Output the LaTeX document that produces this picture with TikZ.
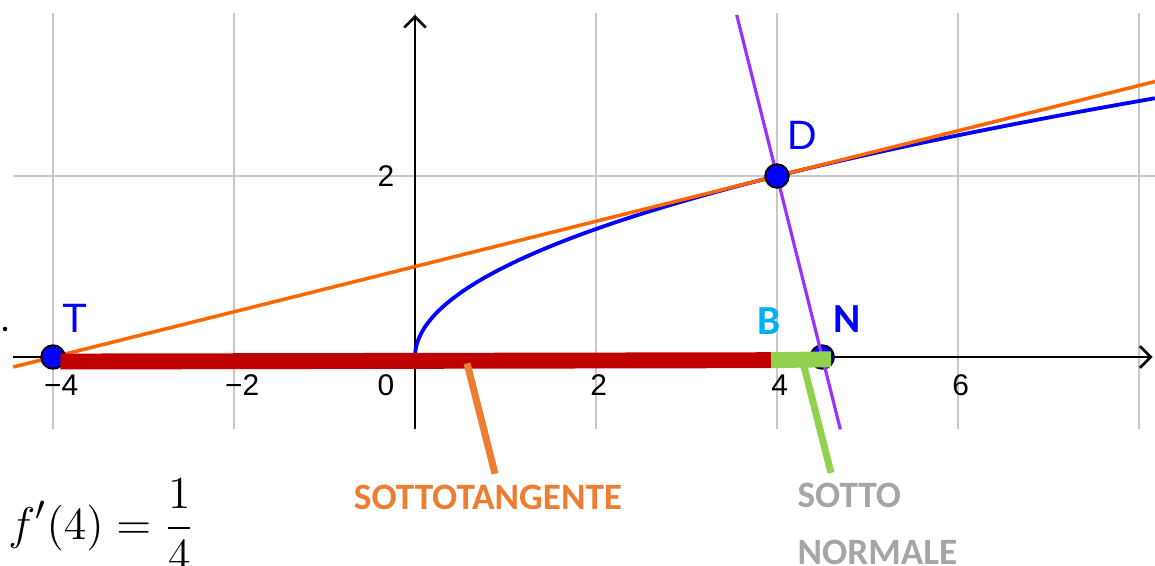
\documentclass[tikz,border=0pt]{standalone}
\usepackage{amsmath}
\usepackage{fontspec}
\setmainfont{Liberation Sans}
\newfontfamily\callib{Carlito}
\usetikzlibrary{arrows.meta,positioning,calc}
\definecolor{gridline}{HTML}{C8C8C8}
\definecolor{ggblue}{HTML}{0000FF}
\definecolor{tanorange}{HTML}{FF6600}
\definecolor{normviolet}{HTML}{9933FF}
\definecolor{subtan}{HTML}{C00000}
\definecolor{subnorm}{HTML}{92D050}
\definecolor{callout}{HTML}{ED7D31}
\definecolor{mute}{HTML}{A5A5A5}
\definecolor{sky}{HTML}{00B0F0}

\begin{document}
\begin{tikzpicture}[
  axis/.style={line width=0.8pt,-{Straight Barb[length=1.2mm,width=2.4mm]}},
  grid/.style={gridline,line width=0.6pt},
  pt/.style={circle,draw=black,fill=ggblue,line width=0.6pt,inner sep=0pt,
             minimum size=2.6mm},
  ptlbl/.style={font=\fontsize{12.9}{14}\selectfont,color=ggblue,inner sep=0pt},
  tick/.style={font=\fontsize{9.4}{10}\selectfont,inner sep=0pt},
  tag/.style={font=\callib\bfseries\fontsize{13}{15}\selectfont,inner sep=0pt},
  caption/.style={font=\callib\bfseries\fontsize{11.7}{13}\selectfont,inner sep=0pt},
  lead/.style={line width=2.2pt}]
\useasboundingbox (-4.586,-2.309) rectangle (8.177,3.945);
% grid and axes
\draw[grid] (-4.44,2) -- (8.18,2);
\foreach \gx in {-4,-2,...,8}
  \draw[grid] (\gx,-0.8) -- (\gx,3.8);
\draw[axis] (-4.44,0) -- (8.15,0);
\draw[axis] (0,-0.8) -- (0,3.78);
\foreach \gx/\gl/\gn in {-3.91/{−4}/a,-1.91/{−2}/b,2.03/2/c,4.03/4/d,6.03/6/e}
  \node[tick] (tick\gn) at (\gx,-0.31) {\gl};
\node[tick] (origin) at (-0.32,-0.31) {0};
\node[tick] (ytwo) at (-0.32,2) {2};
\fill (-4.53,0.31) circle (0.025);
% curve, tangent, normal
\draw[ggblue,line width=1.2pt] plot[domain=0:2.86,samples=60,smooth] ({\x*\x},\x);
\draw[tanorange,line width=1.1pt] (-4.44,-0.11) -- (8.18,3.045);
\node[pt] (T) at (-4,0) {};
\node[pt] (N) at (4.5,0) {};
\draw[normviolet,line width=1pt] (3.555,3.78) -- (4.7,-0.8);
% sottotangente and sottonormale
\coordinate (B) at (3.934,-0.035);
\draw[subtan,line width=5pt] (-3.92,-0.05) -- (B);
\draw[subnorm,line width=5pt] (B) -- (4.597,-0.025);
\coordinate (sttop) at (0.575,-0.07);
\coordinate (stfoot) at (0.884,-1.29);
\coordinate (sntop) at (4.298,-0.1);
\coordinate (snfoot) at (4.597,-1.28);
\draw[lead,callout] (sttop) -- (stfoot);
\draw[lead,subnorm] (sntop) -- (snfoot);
\node[pt] (D) at (4,2) {};
% labels
\node[ptlbl] (lT) at (-3.757,0.431) {T};
\node[ptlbl] (lD) at (4.276,2.453) {D};
\node[tag,color=sky] (lB) at (3.912,0.398) {B};
\node[tag,color=ggblue] (lN) at (4.773,0.42) {N};
\node[caption,color=callout] (sottotangente) at (0.807,-1.556) {SOTTOTANGENTE};
\node[caption,color=mute,anchor=west] (sotto) at (4.221,-1.525) {SOTTO};
\node[caption,color=mute,anchor=west] (normale) at (4.221,-2.155) {NORMALE};
\node[anchor=west,inner sep=0pt,font=\fontsize{15.5}{18}\selectfont] (deriv)
  at (-4.50,-1.856) {$\displaystyle f'(4)=\frac{1}{4}$};
\end{tikzpicture}
\end{document}
